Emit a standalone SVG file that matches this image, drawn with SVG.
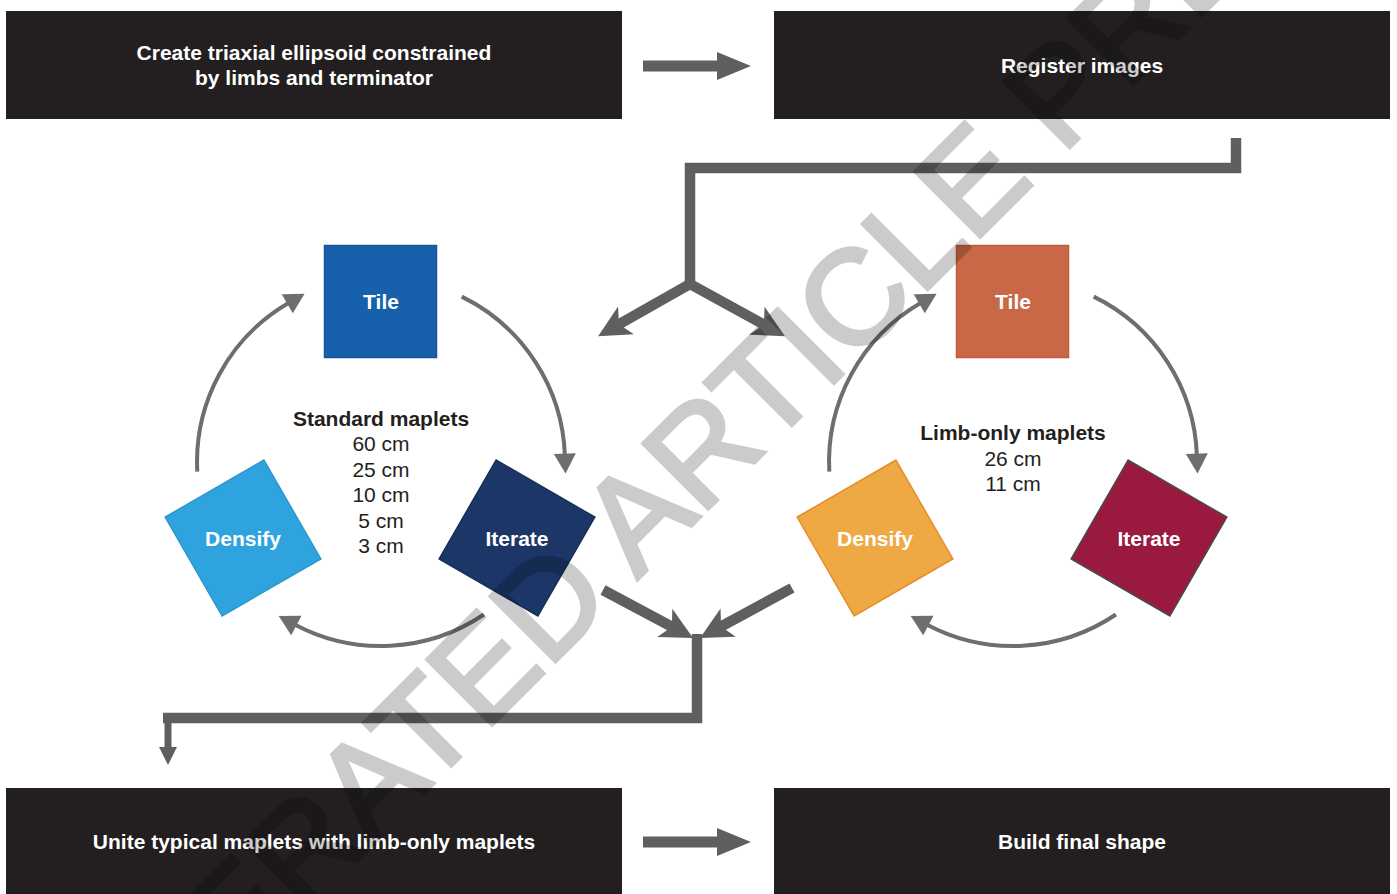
<svg xmlns="http://www.w3.org/2000/svg" width="1397" height="894" viewBox="0 0 1397 894">
<style>
.box{fill:#231f20}
.bt{fill:#fff;font-family:"Liberation Sans",Arial,sans-serif;font-weight:bold;font-size:21px;text-anchor:middle}
.sq{stroke-width:1.5}
.lbl{fill:#fff;font-family:"Liberation Sans",Arial,sans-serif;font-weight:bold;font-size:21px;text-anchor:middle}
.ct{fill:#231f20;font-family:"Liberation Sans",Arial,sans-serif;font-size:21px;text-anchor:middle}
.ctb{font-weight:bold}
.thick{fill:none;stroke:#5e605f;stroke-width:10.5;stroke-linejoin:miter}
.arc{fill:none;stroke:#6e6e6e;stroke-width:4}
.wm{fill:#000;stroke:#000;stroke-width:4;stroke-linejoin:miter;font-family:"Liberation Sans",Arial,sans-serif;font-size:134px}
</style>
<defs>
<marker id="ah" markerUnits="userSpaceOnUse" markerWidth="22" markerHeight="24" refX="2" refY="12" orient="auto" overflow="visible">
<path d="M0,1 L20,12 L0,23 Z" fill="#6e6e6e"/>
</marker>
<marker id="big" markerUnits="userSpaceOnUse" markerWidth="34" markerHeight="34" refX="12" refY="16" orient="auto" overflow="visible">
<path d="M32,16 L0,0 L8,16 L0,32 Z" fill="#5e605f"/>
</marker>
<marker id="small" markerUnits="userSpaceOnUse" markerWidth="20" markerHeight="20" refX="3" refY="9" orient="auto" overflow="visible">
<path d="M0,0 L18,9 L0,18 Z" fill="#5e605f"/>
</marker>
</defs>
<rect width="1397" height="894" fill="#fff"/>

<g id="connectors">
<rect x="643" y="60.5" width="77" height="11" fill="#5e605f"/>
<polygon points="717,52 751,66 717,80" fill="#5e605f"/>
<rect x="643" y="836.5" width="77" height="11" fill="#5e605f"/>
<polygon points="717,828 751,842 717,856" fill="#5e605f"/>
<path class="thick" d="M1236,138 V168 H690 V288"/>
<path class="thick" d="M690,284 L615.5,326.3" marker-end="url(#big)"/>
<path class="thick" d="M690,284 L767.4,326.5" marker-end="url(#big)"/>
<path class="thick" d="M603,590 L675.4,628.6" marker-end="url(#big)"/>
<path class="thick" d="M792,588 L717.6,628.4" marker-end="url(#big)"/>
<path class="thick" d="M697,634 V718 H163"/>
<path d="M168,713 V750" stroke="#5e605f" stroke-width="7" fill="none" marker-end="url(#small)"/>
<path class="arc" d="M461.7,296.6 A184,184 0 0 1 564.9,455.6" marker-end="url(#ah)"/>
<path class="arc" d="M483.9,614.5 A184,184 0 0 1 294.6,624.5" marker-end="url(#ah)"/>
<path class="arc" d="M197.3,471.6 A184,184 0 0 1 289,302.7" marker-end="url(#ah)"/>
<path class="arc" d="M1093.7,296.6 A184,184 0 0 1 1196.9,455.6" marker-end="url(#ah)"/>
<path class="arc" d="M1115.9,614.5 A184,184 0 0 1 926.6,624.5" marker-end="url(#ah)"/>
<path class="arc" d="M829.3,471.6 A184,184 0 0 1 921,302.7" marker-end="url(#ah)"/>
</g>

<g id="box-create">
<rect class="box" x="6" y="11" width="616" height="108"/>
<text class="bt" x="314" y="60">Create triaxial ellipsoid constrained</text>
<text class="bt" x="314" y="85">by limbs and terminator</text>
</g>
<g id="box-register">
<rect class="box" x="774" y="11" width="616" height="108"/>
<text class="bt" x="1082" y="73">Register images</text>
</g>
<g id="box-unite">
<rect class="box" x="6" y="788" width="616" height="106"/>
<text class="bt" x="314" y="849">Unite typical maplets with limb-only maplets</text>
</g>
<g id="box-build">
<rect class="box" x="774" y="788" width="616" height="106"/>
<text class="bt" x="1082" y="849">Build final shape</text>
</g>

<g id="std-tile">
<rect class="sq" x="324.5" y="245.5" width="112" height="112" fill="#1660ac" stroke="#1a559a"/>
<text class="lbl" x="381" y="309">Tile</text>
</g>
<g id="std-iterate">
<rect class="sq" x="-57" y="-57" width="114" height="114" transform="translate(517,538) rotate(30)" fill="#1b3667" stroke="#172f5a"/>
<text class="lbl" x="517" y="546">Iterate</text>
</g>
<g id="std-densify">
<rect class="sq" x="-57" y="-57" width="114" height="114" transform="translate(243,538) rotate(-30)" fill="#2ea3de" stroke="#2b98cf"/>
<text class="lbl" x="243" y="546">Densify</text>
</g>
<g id="std-label">
<text class="ct ctb" x="381" y="425.5">Standard maplets</text>
<text class="ct" x="381" y="451">60 cm</text>
<text class="ct" x="381" y="476.5">25 cm</text>
<text class="ct" x="381" y="502">10 cm</text>
<text class="ct" x="381" y="527.5">5 cm</text>
<text class="ct" x="381" y="553">3 cm</text>
</g>

<g id="limb-tile">
<rect class="sq" x="956.5" y="245.5" width="112" height="112" fill="#c96846" stroke="#c05a3c"/>
<text class="lbl" x="1013" y="309">Tile</text>
</g>
<g id="limb-iterate">
<rect class="sq" x="-57" y="-57" width="114" height="114" transform="translate(1149,538) rotate(30)" fill="#9a1a3f" stroke="#4a4a4a"/>
<text class="lbl" x="1149" y="546">Iterate</text>
</g>
<g id="limb-densify">
<rect class="sq" x="-57" y="-57" width="114" height="114" transform="translate(875,538) rotate(-30)" fill="#eea944" stroke="#e68d2e"/>
<text class="lbl" x="875" y="546">Densify</text>
</g>
<g id="limb-label">
<text class="ct ctb" x="1013" y="440">Limb-only maplets</text>
<text class="ct" x="1013" y="466">26 cm</text>
<text class="ct" x="1013" y="491">11 cm</text>
</g>

<g id="watermark" opacity="0.2">
<text class="wm" transform="translate(-77,1294) rotate(-45)" x="0" y="0">ACCELERATED ARTICLE PREVIEW</text>
</g>
</svg>
